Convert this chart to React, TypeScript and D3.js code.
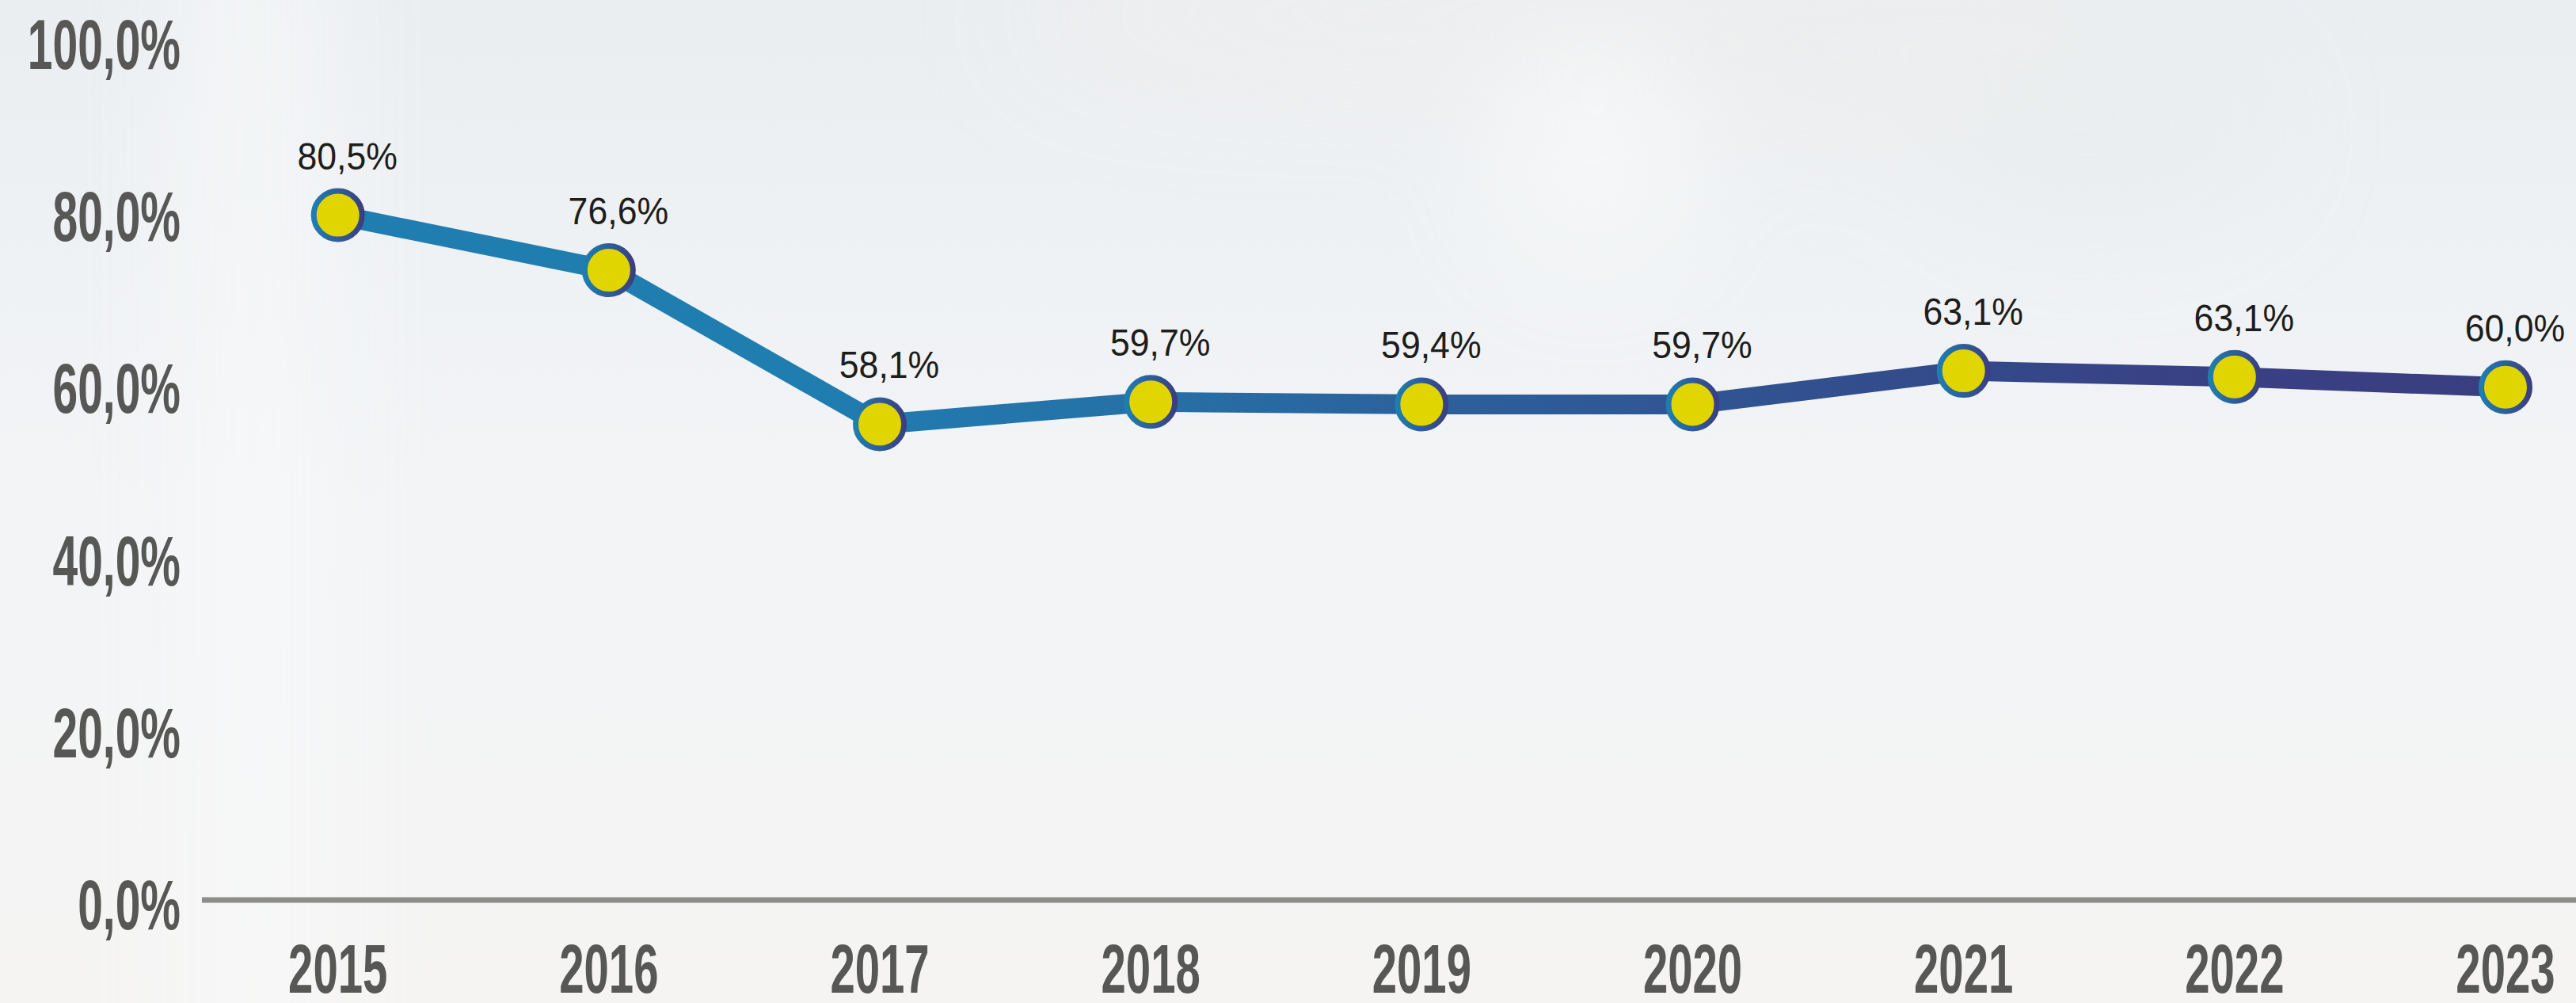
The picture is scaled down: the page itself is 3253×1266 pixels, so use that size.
import React from 'react';
import * as d3 from 'd3';

const years = ['2015', '2016', '2017', '2018', '2019', '2020', '2021', '2022', '2023'];
// printed percentages
const printedValues = [80.5, 76.6, 58.1, 59.7, 59.4, 59.7, 63.1, 63.1, 60.0];
// positions of markers as read against the y axis of the picture
const plottedValues = [79.6, 73.2, 55.3, 57.9, 57.6, 57.6, 61.5, 60.8, 59.6];
const yTicks = [0, 20, 40, 60, 80, 100];

const W = 3253;
const H = 1266;

const fmtPct = (v: number) => d3.format('.1f')(v).replace('.', ',') + '%';

export default function App() {
  const x = d3.scalePoint<string>().domain(years).range([426.7, 3164]).padding(0);
  const y = d3.scaleLinear().domain([0, 100]).range([1136, 50]);

  const pts = years.map((yr, i) => ({ yr, xv: x(yr) as number, yv: y(plottedValues[i]), label: fmtPct(printedValues[i]) }));
  const line = d3
    .line<{ xv: number; yv: number }>()
    .x((d) => d.xv)
    .y((d) => d.yv)
    .curve(d3.curveLinear);

  const axisFont = "'Liberation Sans', Arial, sans-serif";

  return (
    <svg
      width={W}
      height={H}
      viewBox={`0 0 ${W} ${H}`}
      style={{ position: 'absolute', left: 0, top: 0, display: 'block' }}
    >
      <defs>
        <linearGradient id="bg" x1="0" y1="0" x2="0" y2="1">
          <stop offset="0" stopColor="#ebeef1" />
          <stop offset="0.5" stopColor="#f2f4f6" />
          <stop offset="1" stopColor="#f5f4f3" />
        </linearGradient>
        <filter id="blur" x="-20%" y="-20%" width="140%" height="140%">
          <feGaussianBlur stdDeviation="80" />
        </filter>
        <linearGradient id="lineGrad" gradientUnits="userSpaceOnUse" x1={x(years[0])} y1="0" x2={x(years[years.length - 1])} y2="0">
          <stop offset="0" stopColor="#1f7db0" />
          <stop offset="0.22" stopColor="#1f7db0" />
          <stop offset="0.375" stopColor="#2670a7" />
          <stop offset="0.5" stopColor="#2c619b" />
          <stop offset="0.625" stopColor="#305592" />
          <stop offset="0.75" stopColor="#34498a" />
          <stop offset="0.88" stopColor="#394083" />
          <stop offset="1" stopColor="#3a3e80" />
        </linearGradient>
        <linearGradient id="ringGrad" x1="0" y1="0" x2="1" y2="0">
          <stop offset="0" stopColor="#1f7db0" />
          <stop offset="1" stopColor="#3b3f82" />
        </linearGradient>
      </defs>

      <rect x={0} y={0} width={W} height={H} fill="url(#bg)" />
      <g filter="url(#blur)" opacity={0.8}>
        <rect x={260} y={-200} width={120} height={1700} fill="#fafbfc" />
        <ellipse cx={2010} cy={200} rx={110} ry={130} fill="#fbfcfc" />
        <ellipse cx={1800} cy={20} rx={500} ry={60} fill="#f1efee" />
        <ellipse cx={2400} cy={60} rx={300} ry={80} fill="#efeeed" />
        <ellipse cx={2650} cy={160} rx={200} ry={100} fill="#e9edef" />
      </g>

      {/* x axis line */}
      <line x1={255} x2={W} y1={y(0)} y2={y(0)} stroke="#8c8c8a" strokeWidth={7} />

      {/* y tick labels */}
      {yTicks.map((t) => (
        <text
          key={t}
          transform={`translate(228,${y(t) + 37}) scale(0.64,1)`}
          textAnchor="end"
          fontFamily={axisFont}
          fontWeight="bold"
          fontSize={89}
          fill="#575756"
        >
          {fmtPct(t)}
        </text>
      ))}

      {/* x labels */}
      {years.map((yr) => (
        <text
          key={yr}
          transform={`translate(${x(yr)},1253) scale(0.64,1)`}
          textAnchor="middle"
          fontFamily={axisFont}
          fontWeight="bold"
          fontSize={88}
          fill="#575756"
        >
          {yr}
        </text>
      ))}

      {/* line */}
      <path d={line(pts) as string} fill="none" stroke="url(#lineGrad)" strokeWidth={25} strokeLinejoin="round" strokeLinecap="butt" />

      {/* markers */}
      {pts.map((p) => (
        <circle key={p.yr} cx={p.xv} cy={p.yv} r={30.5} fill="#e1d500" stroke="url(#ringGrad)" strokeWidth={7} />
      ))}

      {/* value labels */}
      {pts.map((p) => (
        <text
          key={p.yr}
          transform={`translate(${p.xv + 12},${p.yv - 58}) scale(0.93,1)`}
          textAnchor="middle"
          fontFamily={axisFont}
          fontSize={48}
          fill="#1d1d1b"
        >
          {p.label}
        </text>
      ))}
    </svg>
  );
}
